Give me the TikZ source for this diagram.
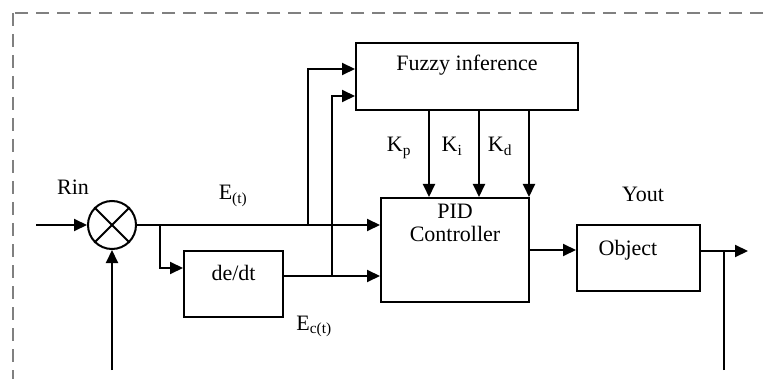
\documentclass[tikz,border=0pt]{standalone}
\usepackage{fontspec}
\setmainfont{Liberation Serif}
\usetikzlibrary{calc, positioning}
\usetikzlibrary{arrows.meta}

\tikzset{
    blk/.style={draw, rectangle, line width=2pt, inner sep=0pt},
    sig/.style={line width=2pt, -{Triangle[length=13pt, width=12pt]}},
    wire/.style={line width=2pt},
    lbl/.style={inner sep=0pt, text height=14pt, text depth=4pt},
}

\begin{document}
\begin{tikzpicture}[x=1pt, y=-1pt, font=\fontsize{22}{23}\selectfont]
    \useasboundingbox (0,0) rectangle (770,379);
    \clip (0,0) rectangle (770,379);
    \draw[gray, line width=2.6pt, dash pattern=on 13pt off 8pt] (13,13) rectangle (800,420);

    % blocks
    \node[blk, minimum width=222pt, minimum height=67pt] (fuzzy) at (467,76.5) {};
    \node[blk, minimum width=148pt, minimum height=104pt] (pid) at (455,250) {};
    \node[blk, minimum width=99pt, minimum height=66pt] (ded) at (233.5,284) {};
    \node[blk, minimum width=123pt, minimum height=66pt] (obj) at (638.5,258) {};
    \node[draw, circle, line width=2pt, minimum size=48pt, inner sep=0pt] (sum) at (112,225) {};
    \draw[wire] (sum.north west) -- (sum.south east);
    \draw[wire] (sum.north east) -- (sum.south west);

    \node[lbl] (fuzzytxt) at (467,66) {Fuzzy inference};
    \node[lbl, align=center] (pidtxt) at (455,236) {PID\\Controller};
    \node[lbl] (dedtxt) at (233.5,275) {de/dt};
    \node[lbl] (objtxt) at (628,250) {Object};

    % free ends and junctions
    \coordinate (rin) at (36,225);
    \coordinate (fb) at (112,370);
    \coordinate (b1) at (160,225);
    \coordinate (j1) at (308,225);
    \coordinate (j2) at (332,276);
    \coordinate (out) at (748,251);
    \coordinate (yo) at (724,370);

    \draw[sig] (rin) -- (sum);
    \draw[sig] (fb) -- (sum);
    \draw[sig] (sum.east) -- (sum.east -| pid.west);
    \draw[sig] (b1) |- ([yshift=16pt]ded.west);
    \draw[sig] ([yshift=8pt]ded.east) -- ([yshift=8pt]ded.east -| pid.west);
    \draw[sig] (j1) |- ([yshift=7.5pt]fuzzy.west);
    \draw[sig] (j2) |- ([yshift=-19.5pt]fuzzy.west);
    \foreach \x in {429,479,529}
        \draw[sig] (fuzzy.south -| \x,0) -- (pid.north -| \x,0);
    \draw[sig] (pid.east) -- (pid.east -| obj.west);
    \draw[sig] ([yshift=7pt]obj.east) -- (out);
    \draw[wire] (yo) -- (yo |- out);

    % labels
    \node[lbl] (rinlbl) at (73,190) {Rin};
    \node[lbl] (etlbl) at (233,195) {E\textsubscript{(t)}};
    \node[lbl] (ectlbl) at (314,325) {E\textsubscript{c(t)}};
    \node[lbl] (kplbl) at (399,147) {K\textsubscript{p}};
    \node[lbl] (kilbl) at (452,147) {K\textsubscript{i}};
    \node[lbl] (kdlbl) at (500,147) {K\textsubscript{d}};
    \node[lbl] (youtlbl) at (643,197) {Yout};
\end{tikzpicture}
\end{document}
